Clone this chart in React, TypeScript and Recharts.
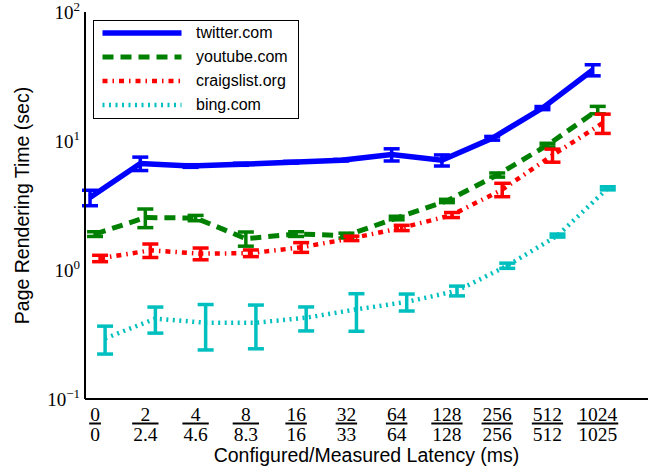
import { ErrorBar, Legend, Line, LineChart, XAxis, YAxis } from 'recharts';

// configured / measured latency per category
const configured = ['0', '2', '4', '8', '16', '32', '64', '128', '256', '512', '1024'];
const measured = ['0', '2.4', '4.6', '8.3', '16', '33', '64', '128', '256', '512', '1025'];

const twitter = [3.65, 6.7, 6.4, 6.6, 6.85, 7.1, 7.85, 7.1, 10.5, 18.0, 35.5];
const twitterErr = [0.5, 0.8, 0.15, 0.12, 0.1, 0.1, 0.85, 0.7, 0.35, 0.5, 3.5];
const youtube = [1.9, 2.55, 2.53, 1.75, 1.9, 1.85, 2.53, 3.43, 5.45, 9.3, 17.4];
const youtubeErr = [0.08, 0.42, 0.12, 0.22, 0.08, 0.08, 0.08, 0.1, 0.2, 0.3, 1.15];
const craigslist = [1.23, 1.42, 1.34, 1.35, 1.5, 1.76, 2.12, 2.67, 4.2, 7.75, 13.8];
const craigslistErr = [0.07, 0.17, 0.14, 0.08, 0.13, 0.07, 0.1, 0.12, 0.5, 0.9, 2.35];
const bing = [0.295, 0.42, 0.39, 0.39, 0.427, 0.495, 0.566, 0.69, 1.08, 1.85, 4.3];
const bingErr = [0.072, 0.096, 0.15, 0.145, 0.09, 0.16, 0.085, 0.06, 0.05, 0.05, 0.12];

const majorTicks = [0.1, 1, 10, 100];
const minorTicks = [0.2, 0.3, 0.4, 0.5, 0.6, 0.7, 0.8, 0.9, 2, 3, 4, 5, 6, 7, 8, 9, 20, 30, 40, 50, 60, 70, 80, 90];
const xTicks = configured.map((_, i) => i);

const series = [
  { name: 'twitter.com', values: twitter, err: twitterErr, shift: -0.1, color: '#0000ff', width: 5.5, dash: undefined },
  { name: 'youtube.com', values: youtube, err: youtubeErr, shift: 0, color: '#008000', width: 5, dash: '11 7' },
  { name: 'craigslist.org', values: craigslist, err: craigslistErr, shift: 0.1, color: '#ff0000', width: 4.5, dash: '5 5 1.5 5' },
  { name: 'bing.com', values: bing, err: bingErr, shift: 0.2, color: '#00bfbf', width: 4.5, dash: '2 4.5' },
];

const rows = (s: typeof series[number]) => s.values.map((v, i) => ({ x: i + s.shift, y: v, e: s.err[i] }));

const SANS = '"Liberation Sans", Arial, sans-serif';
const SERIF = '"Liberation Serif", "Times New Roman", serif';

const YTick = (props: any) => {
  const { x, y, payload } = props;
  const exp = Math.round(Math.log10(payload.value));
  return (
    <text x={x} y={y + 7} textAnchor="end" fontFamily={SERIF} fontSize={19} fill="#000">
      10<tspan dy={-8} fontSize={13}>{exp < 0 ? '\u2212' + Math.abs(exp) : String(exp)}</tspan>
    </text>
  );
};

const XTick = (props: any) => {
  const { x, y, payload } = props;
  const i = payload.value;
  const top = configured[i];
  const bottom = measured[i];
  const w = (s: string) => s.split('').reduce((a, c) => a + (c === '.' ? 0.25 : 0.5), 0) * 19.5;
  const bar = Math.max(w(top), w(bottom)) + 2;
  return (
    <g fontFamily={SERIF} fontSize={19.5} fill="#000">
      <text x={x} y={y + 22} textAnchor="middle">{top}</text>
      <line x1={x - bar / 2} x2={x + bar / 2} y1={y + 24.5} y2={y + 24.5} stroke="#000" strokeWidth={2} />
      <text x={x} y={y + 42} textAnchor="middle">{bottom}</text>
    </g>
  );
};

const YLabel = (props: any) => {
  const vb = props.viewBox || { x: 0, y: 12, width: 85, height: 387 };
  const cx = vb.x + 22;
  const cy = vb.y + vb.height / 2;
  return (
    <text x={cx} y={cy} transform={`rotate(-90, ${cx}, ${cy})`} textAnchor="middle" dominantBaseline="central"
      fontFamily={SANS} fontSize={19.5} fill="#000">
      Page Rendering Time (sec)
    </text>
  );
};

const XLabel = (props: any) => {
  const vb = props.viewBox || { x: 85, y: 399, width: 563, height: 70 };
  return (
    <text x={vb.x + vb.width / 2} y={vb.y + vb.height - 7} textAnchor="middle" fontFamily={SANS} fontSize={19.5} fill="#000">
      Configured/Measured Latency (ms)
    </text>
  );
};

const LegendBox = () => (
  <div style={{ border: '1.5px solid #000', background: '#fff', width: 204, paddingBottom: 1, fontFamily: SANS, fontSize: 16, color: '#000' }}>
    {series.map(s => (
      <div key={s.name} style={{ display: 'flex', alignItems: 'center', height: 24 }}>
        <svg width={96} height={24} style={{ display: 'block' }}>
          <line x1={8.5} x2={87.5} y1={12} y2={12} stroke={s.color} strokeWidth={s.width} strokeDasharray={s.dash} />
        </svg>
        <span style={{ marginLeft: 6 }}>{s.name}</span>
      </div>
    ))}
  </div>
);

const axisLine = { stroke: '#000', strokeWidth: 2 };
const tickLine = { stroke: '#000', strokeWidth: 1 };

export default function App() {
  return (
    <div style={{ position: 'absolute', left: 0, top: 0, background: '#fff' }}>
      <LineChart width={657} height={469} margin={{ top: 12, right: 9, left: 0, bottom: 0 }}>
        <XAxis xAxisId="x" dataKey="x" type="number" domain={[-0.2, 11]} allowDataOverflow ticks={xTicks} interval={0}
          height={70} tickLine={false} tickSize={0} tickMargin={0} axisLine={axisLine} tick={<XTick />} label={XLabel} />
        <XAxis xAxisId="xb" orientation="bottom" mirror height={0} type="number" domain={[-0.2, 11]} allowDataOverflow
          ticks={xTicks} interval={0} tick={() => null} tickSize={7} axisLine={false} tickLine={tickLine} />
        <XAxis xAxisId="xt" orientation="top" mirror height={0} type="number" domain={[-0.2, 11]} allowDataOverflow
          ticks={xTicks} interval={0} tick={() => null} tickSize={7} axisLine={axisLine} tickLine={tickLine} />

        <YAxis yAxisId="y" type="number" scale="log" domain={[0.1, 100]} allowDataOverflow ticks={majorTicks} interval={0}
          width={85} tickLine={false} tickSize={0} tickMargin={5} axisLine={axisLine} tick={<YTick />} label={YLabel} />
        <YAxis yAxisId="ylM" orientation="left" mirror width={0} type="number" scale="log" domain={[0.1, 100]} allowDataOverflow
          ticks={majorTicks} interval={0} tick={() => null} tickSize={8} axisLine={false} tickLine={tickLine} />
        <YAxis yAxisId="ylm" orientation="left" mirror width={0} type="number" scale="log" domain={[0.1, 100]} allowDataOverflow
          ticks={minorTicks} interval={0} tick={() => null} tickSize={4} axisLine={false} tickLine={tickLine} />
        <YAxis yAxisId="yrM" orientation="right" mirror width={0} type="number" scale="log" domain={[0.1, 100]} allowDataOverflow
          ticks={majorTicks} interval={0} tick={() => null} tickSize={8} axisLine={axisLine} tickLine={tickLine} />
        <YAxis yAxisId="yrm" orientation="right" mirror width={0} type="number" scale="log" domain={[0.1, 100]} allowDataOverflow
          ticks={minorTicks} interval={0} tick={() => null} tickSize={4} axisLine={false} tickLine={tickLine} />

        <Legend layout="vertical" align="center" verticalAlign="middle" content={LegendBox}
          wrapperStyle={{ left: 93, top: 20, width: 'auto' }} />

        {series.map(s => (
          <Line key={s.name} xAxisId="x" yAxisId="y" data={rows(s)} dataKey="y" name={s.name} type="linear"
            stroke={s.color} strokeWidth={s.width} strokeDasharray={s.dash} dot={false} activeDot={false}
            isAnimationActive={false}>
            <ErrorBar dataKey="e" direction="y" width={8} stroke={s.color} strokeWidth={3.5} isAnimationActive={false} />
          </Line>
        ))}
      </LineChart>
    </div>
  );
}
